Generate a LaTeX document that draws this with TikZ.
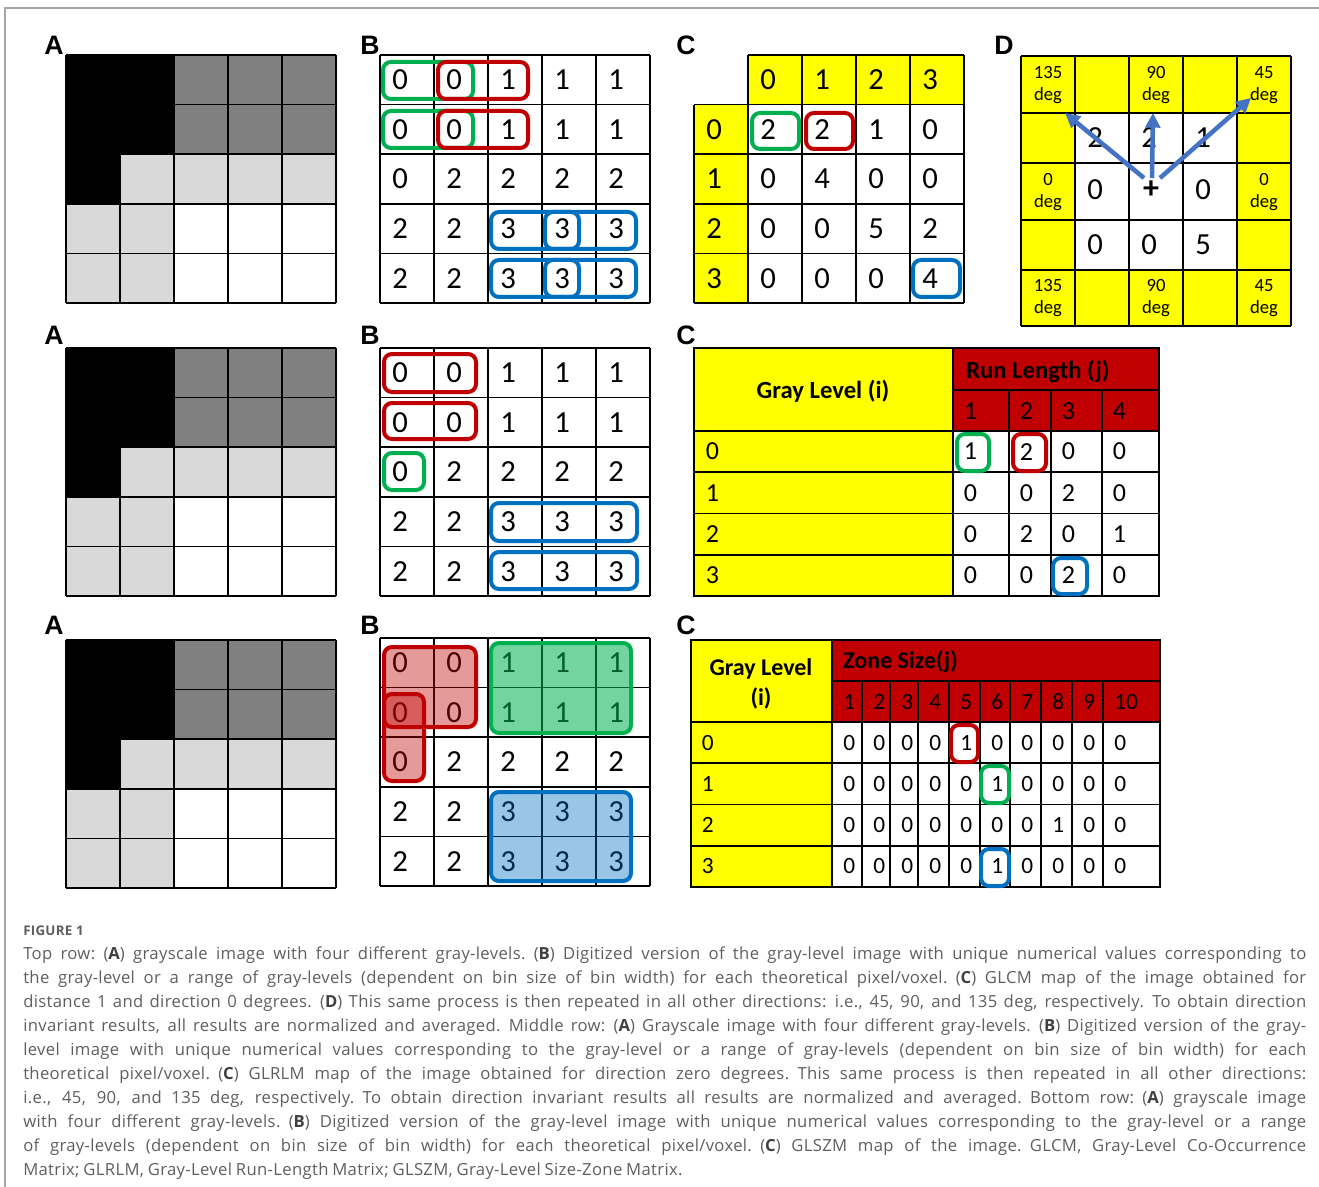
\documentclass[tikz,border=0pt]{standalone}
\usepackage{fontspec}
\setmainfont{Carlito}
\newfontfamily\labelfont{Liberation Sans}
\newfontfamily\capfont[LetterSpace=2]{Open Sans}
\usetikzlibrary{arrows.meta, positioning}

\definecolor{pixdark}{HTML}{808080}
\definecolor{pixlight}{HTML}{D9D9D9}
\definecolor{hdryellow}{HTML}{FFFF00}
\definecolor{hdrred}{HTML}{C00000}
\definecolor{hlgreen}{HTML}{00B050}
\definecolor{hlred}{HTML}{C00000}
\definecolor{hlblue}{HTML}{0070C0}
\definecolor{arrowblue}{HTML}{4472C4}
\definecolor{captiongray}{HTML}{5E5E5E}
\definecolor{framegray}{HTML}{A6A6A6}

\newcommand{\capline}[1]{\hbox to 962.25pt{\spaceskip=0.23em plus 1fil\relax #1}}
\newcommand{\capletter}[1]{{\bfseries\color{black!75}#1}}

\begin{document}
\begin{tikzpicture}[x=0.75pt, y=-0.75pt,
    panel/.style={font=\labelfont\bfseries\fontsize{20}{24}\selectfont, inner sep=0pt},
    digit/.style={anchor=west, inner sep=0pt, font=\fontsize{23}{27}\selectfont},
    rldigit/.style={anchor=west, inner sep=0pt, font=\fontsize{19.5}{23}\selectfont},
    szdigit/.style={anchor=west, inner sep=0pt, font=\fontsize{17.5}{21}\selectfont},
    degtext/.style={align=center, inner sep=0pt, font=\fontsize{14}{16.5}\selectfont},
    headtext/.style={inner sep=0pt, font=\bfseries\fontsize{18.5}{22.5}\selectfont},
    gline/.style={line width=1.3pt},
    hibox/.style={rounded corners=6pt, line width=3pt},
    dirarrow/.style={arrowblue, line width=3.4pt, -{Triangle[length=11pt, width=11pt]}}]

    \useasboundingbox (0,0) rectangle (1319,1187);

    % Frame
    \draw[framegray, line width=1pt] (5,1187) -- (5,8) -- (1319,8);

    % Panel letters
    \foreach \ly [count=\k] in {45,335,625} {
        \node[panel] (lblA\k) at (54,\ly) {A};
        \node[panel] (lblB\k) at (370,\ly) {B};
        \node[panel] (lblC\k) at (686,\ly) {C};
    }
    \node[panel] (lblD) at (1004,45) {D};

    % Grayscale images (A)
    \foreach \y in {55,348,640} {
        \fill[pixdark] (174,\y) rectangle (336,\y+99.2);
        \fill[black] (66,\y) rectangle (174,\y+99.2);
        \fill[black] (66,\y+99.2) rectangle (120,\y+148.8);
        \fill[pixlight] (120,\y+99.2) rectangle (336,\y+148.8);
        \fill[pixlight] (66,\y+148.8) rectangle (174,\y+248);
        \foreach \i in {0,...,5} {
            \draw[gline] (66+54*\i,\y) -- (66+54*\i,\y+248);
            \draw[gline] (66,\y+49.6*\i) -- (336,\y+49.6*\i);
        }
    }

    % Digitized images (B)
    \foreach \y [count=\k] in {55,348,638} {
        \foreach \i in {0,...,5} {
            \draw[gline] (380+54*\i,\y) -- (380+54*\i,\y+248);
            \draw[gline] (380,\y+49.6*\i) -- (650,\y+49.6*\i);
        }
        \foreach \row [count=\r from 0] in {{0,0,1,1,1},{0,0,1,1,1},{0,2,2,2,2},{2,2,3,3,3},{2,2,3,3,3}}
            \foreach \v [count=\c from 0] in \row
                \node[digit] (b\k-\r-\c) at (380+54*\c+12,\y+49.6*\r+24.8) {\v};
    }

    % Pairs for GLCM
    \draw[hibox, hlgreen] (383,62) rectangle (473,99);
    \draw[hibox, hlred] (438,62) rectangle (528,99);
    \draw[hibox, hlgreen] (383,111) rectangle (473,148);
    \draw[hibox, hlred] (438,111) rectangle (528,148);
    \draw[hibox, hlblue] (491,212) rectangle (579,249);
    \draw[hibox, hlblue] (545,212) rectangle (636,249);
    \draw[hibox, hlblue] (491,260) rectangle (579,297);
    \draw[hibox, hlblue] (545,260) rectangle (636,297);

    % Runs for GLRLM
    \draw[hibox, hlred] (384,354) rectangle (476,392);
    \draw[hibox, hlred] (384,403) rectangle (476,439);
    \draw[hibox, hlgreen] (384,453) rectangle (424,490);
    \draw[hibox, hlblue] (491,503) rectangle (637,541);
    \draw[hibox, hlblue] (491,552) rectangle (637,589);

    % Zones for GLSZM
    \draw[hibox, hlred, fill=hlred, fill opacity=0.4] (384,647) rectangle (476,727);
    \draw[hibox, hlred, fill=hlred, fill opacity=0.4] (384,694) rectangle (424,781);
    \draw[hibox, hlgreen, fill=hlgreen, fill opacity=0.55] (491,643) rectangle (631,733);
    \draw[hibox, hlblue, fill=hlblue, fill opacity=0.4] (491,792) rectangle (631,881);

    % GLCM (C, top)
    \fill[hdryellow] (748,55) rectangle (964,104.6);
    \fill[hdryellow] (694,104.6) rectangle (748,303);
    \foreach \i in {0,...,4}
        \draw[gline] (748+54*\i,55) -- (748+54*\i,303);
    \draw[gline] (694,104.6) -- (694,303);
    \draw[gline] (748,55) -- (964,55);
    \foreach \j in {1,...,5}
        \draw[gline] (694,55+49.6*\j) -- (964,55+49.6*\j);
    \foreach \v [count=\c from 0] in {0,1,2,3} {
        \node[digit] (gh\c) at (748+54*\c+12,79.8) {\v};
        \node[digit] (gl\c) at (706,104.6+49.6*\c+24.8) {\v};
    }
    \foreach \row [count=\r from 0] in {{2,2,1,0},{0,4,0,0},{0,0,5,2},{0,0,0,4}}
        \foreach \v [count=\c from 0] in \row
            \node[digit] (g\r-\c) at (748+54*\c+12,104.6+49.6*\r+24.8) {\v};
    \draw[hibox, hlgreen] (752,113) rectangle (799,149);
    \draw[hibox, hlred] (806,113) rectangle (853,149);
    \draw[hibox, hlblue] (913,260) rectangle (960,297);

    % Directions (D)
    \fill[hdryellow] (1021,56) rectangle (1291,326);
    \fill[white] (1075,113) rectangle (1237,270);
    \foreach \xx in {1021,1075,1129,1183,1237,1291}
        \draw[gline] (\xx,56) -- (\xx,326);
    \foreach \yy in {56,113,163,220,270,326}
        \draw[gline] (1021,\yy) -- (1291,\yy);
    \node[degtext] (deg135a) at (1048,85) {135\\deg};
    \node[degtext] (deg90a) at (1156,85) {90\\deg};
    \node[degtext] (deg45a) at (1264,85) {45\\deg};
    \node[degtext] (deg0a) at (1048,192) {0\\deg};
    \node[degtext] (deg0b) at (1264,192) {0\\deg};
    \node[degtext] (deg135b) at (1048,298) {135\\deg};
    \node[degtext] (deg90b) at (1156,298) {90\\deg};
    \node[degtext] (deg45b) at (1264,298) {45\\deg};
    \foreach \v [count=\c from 1] in {2,2,1}
        \node[digit] (d1-\c) at (1021+54*\c+12,138) {\v};
    \foreach \v [count=\c from 1] in {0,0,5}
        \node[digit] (d3-\c) at (1021+54*\c+12,245) {\v};
    \node[digit] (d2-1) at (1087,190) {0};
    \node[digit] (d2-3) at (1195,190) {0};
    \node[inner sep=0pt, font=\bfseries\fontsize{24}{28}\selectfont] (dctr) at (1151,190) {+};
    \coordinate (o135) at (1144,178);
    \coordinate (t135) at (1065,113);
    \coordinate (o90) at (1152,178);
    \coordinate (t90) at (1153,113);
    \coordinate (o45) at (1160,178);
    \coordinate (t45) at (1251,98);
    \draw[dirarrow] (o135) -- (t135);
    \draw[dirarrow] (o90) -- (t90);
    \draw[dirarrow] (o45) -- (t45);

    % GLRLM (C, middle)
    \fill[hdryellow] (694,348) rectangle (953,596);
    \fill[hdrred] (953,348) rectangle (1159,431);
    \draw[gline] (694,348) rectangle (1159,596);
    \draw[gline] (953,348) -- (953,596);
    \draw[gline] (953,390) -- (1159,390);
    \foreach \xx in {1009,1051,1102}
        \draw[gline] (\xx,390) -- (\xx,596);
    \foreach \j in {0,...,3}
        \draw[gline] (694,431+41.25*\j) -- (1159,431+41.25*\j);
    \node[headtext, anchor=base] (rlgray) at (823,398) {Gray Level (i)};
    \node[headtext, anchor=base west] (rlhead) at (966,378) {Run Length (j)};
    \foreach \v [count=\c from 0] in {1,2,3,4} {
        \pgfmathsetmacro\xl{{953,1009,1051,1102}[\c]}
        \node[rldigit] (rlh\c) at (\xl+10.5,411) {\v};
    }
    \foreach \v [count=\r from 0] in {0,1,2,3}
        \node[rldigit] (rll\r) at (705.5,431+41.25*\r+20.6) {\v};
    \foreach \row [count=\r from 0] in {{1,2,0,0},{0,0,2,0},{0,2,0,1},{0,0,2,0}}
        \foreach \v [count=\c from 0] in \row {
            \pgfmathsetmacro\xl{{953,1009,1051,1102}[\c]}
            \node[rldigit] (rl\r-\c) at (\xl+10.5,431+41.25*\r+20.6) {\v};
        }
    \draw[hibox, hlgreen] (957,434) rectangle (989,471);
    \draw[hibox, hlred] (1013,434) rectangle (1046,471);
    \draw[hibox, hlblue] (1053,558) rectangle (1087,594);

    % GLSZM (C, bottom)
    \fill[hdryellow] (691,640) rectangle (832,887);
    \fill[hdrred] (832,640) rectangle (1160,722);
    \draw[gline] (691,640) rectangle (1160,887);
    \draw[gline] (832,640) -- (832,887);
    \draw[gline] (832,681) -- (1160,681);
    \foreach \xx in {862,890,918,949,980,1010,1041,1072,1103}
        \draw[gline] (\xx,681) -- (\xx,887);
    \foreach \j in {0,...,3}
        \draw[gline] (691,722+41.25*\j) -- (1160,722+41.25*\j);
    \node[headtext, align=center, font=\bfseries\fontsize{18}{22.5}\selectfont] (szgray) at (761,684) {Gray Level\\(i)};
    \node[headtext, anchor=base west, font=\bfseries\fontsize{18}{22.5}\selectfont] (szhead) at (843,668) {Zone Size(j)};
    \foreach \v [count=\c from 0] in {1,...,10} {
        \pgfmathsetmacro\xl{{832,862,890,918,949,980,1010,1041,1072,1103}[\c]}
        \node[szdigit] (szh\c) at (\xl+11,702) {\v};
    }
    \foreach \v [count=\r from 0] in {0,1,2,3}
        \node[szdigit] (szl\r) at (701.5,722+41.25*\r+20.6) {\v};
    \foreach \row [count=\r from 0] in {{0,0,0,0,1,0,0,0,0,0},{0,0,0,0,0,1,0,0,0,0},{0,0,0,0,0,0,0,1,0,0},{0,0,0,0,0,1,0,0,0,0}}
        \foreach \v [count=\c from 0] in \row {
            \pgfmathsetmacro\xl{{832,862,890,918,949,980,1010,1041,1072,1103}[\c]}
            \node[szdigit] (sz\r-\c) at (\xl+11,722+41.25*\r+20.6) {\v};
        }
    \draw[hibox, hlred] (951,725) rectangle (978,762);
    \draw[hibox, hlgreen] (981,766) rectangle (1009,803);
    \draw[hibox, hlblue] (981,849) rectangle (1009,886);

    % Caption
    \node[anchor=west, inner sep=0pt, text=captiongray, font=\capfont\bfseries\fontsize{10}{12}\selectfont] (figlbl) at (23,931) {FIGURE 1};
    \node[anchor=north west, inner sep=0pt, text width=962.25pt, text=captiongray, font=\capfont\fontsize{12.5}{18}\selectfont] (caption) at (23,946) {\noindent
        \capline{Top row: (\capletter{A}) grayscale image with four different gray-levels. (\capletter{B}) Digitized version of the gray-level image with unique numerical values corresponding to}
        \capline{the gray-level or a range of gray-levels (dependent on bin size of bin width) for each theoretical pixel/voxel. (\capletter{C}) GLCM map of the image obtained for}
        \capline{distance 1 and direction 0 degrees. (\capletter{D}) This same process is then repeated in all other directions: i.e., 45, 90, and 135 deg, respectively. To obtain direction}
        \capline{invariant results, all results are normalized and averaged. Middle row: (\capletter{A}) Grayscale image with four different gray-levels. (\capletter{B}) Digitized version of the gray-}
        \capline{level image with unique numerical values corresponding to the gray-level or a range of gray-levels (dependent on bin size of bin width) for each}
        \capline{theoretical pixel/voxel. (\capletter{C}) GLRLM map of the image obtained for direction zero degrees. This same process is then repeated in all other directions:}
        \capline{i.e., 45, 90, and 135 deg, respectively. To obtain direction invariant results all results are normalized and averaged. Bottom row: (\capletter{A}) grayscale image}
        \capline{with four different gray-levels. (\capletter{B}) Digitized version of the gray-level image with unique numerical values corresponding to the gray-level or a range}
        \capline{of gray-levels (dependent on bin size of bin width) for each theoretical pixel/voxel. (\capletter{C}) GLSZM map of the image. GLCM, Gray-Level Co-Occurrence}
        \hbox{\spaceskip=0.23em\relax Matrix; GLRLM, Gray-Level Run-Length Matrix; GLSZM, Gray-Level Size-Zone Matrix.}};
\end{tikzpicture}
\end{document}
